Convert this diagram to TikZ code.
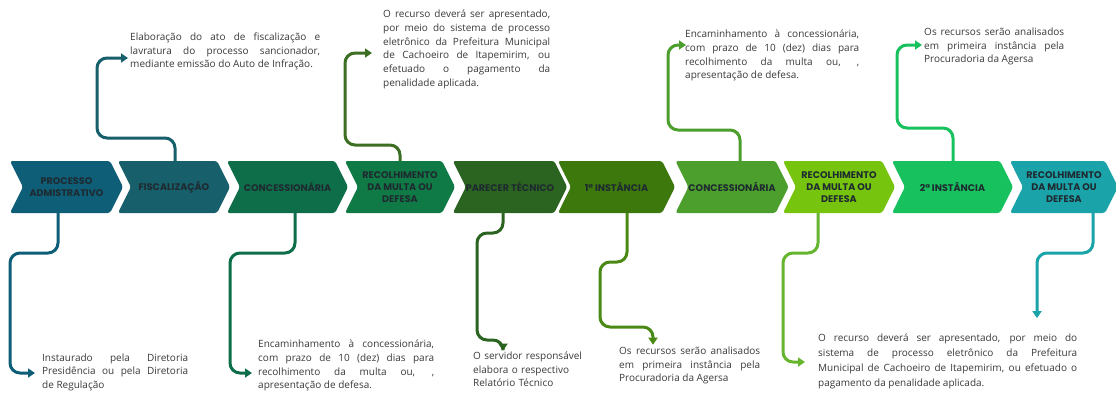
\documentclass[tikz,border=0pt]{standalone}
\usepackage{fontspec}
\setmainfont{Open Sans}
\newfontfamily\chevfont{Poppins}
\usetikzlibrary{shapes.symbols,arrows.meta,calc}
\definecolor{k1}{HTML}{0F5E78}
\definecolor{k2}{HTML}{165F6B}
\definecolor{k3}{HTML}{0E6E4A}
\definecolor{k4}{HTML}{0F7A45}
\definecolor{k5}{HTML}{2B6420}
\definecolor{k6}{HTML}{3D780D}
\definecolor{k7}{HTML}{4C9F2C}
\definecolor{k8}{HTML}{77C40E}
\definecolor{k9}{HTML}{17C25E}
\definecolor{k10}{HTML}{1AA3A9}
\definecolor{a4}{HTML}{3C6E23}
\definecolor{a6}{HTML}{4A8A14}
\definecolor{a8}{HTML}{66B52E}
\definecolor{chevtext}{HTML}{1E2A30}
\definecolor{bodytext}{HTML}{3A3A3A}
\hyphenpenalty=10000
\exhyphenpenalty=10000
\tikzset{
  chev/.style={shape=signal, signal from=west, signal to=east, signal pointer angle=127,
    minimum height=52pt, inner sep=0pt, fill=#1, rounded corners=2.5pt,
    font=\chevfont\fontsize{9.6}{11.8}\selectfont\bfseries, text=chevtext, align=center},
  conn/.style={line width=3pt, rounded corners=10pt, -{Triangle[length=7pt,width=9pt]}},
  body/.style={inner sep=0pt, anchor=base west, align=justify, text=bodytext,
    font=\fontsize{10}{13.7}\selectfont, text width=#1},
}
\begin{document}
\begin{tikzpicture}[x=1pt,y=-1pt]
\fill[white] (0,0) rectangle (1116,394);
\useasboundingbox (0,0) rectangle (1116,394);
% chevrons
\node[chev=k1, minimum width=113pt] (c1) at (66.5,187) {PROCESSO\\ADMISTRATIVO};
\node[chev=k2, minimum width=112pt] (c2) at (174,187) {FISCALIZAÇÃO};
\node[chev=k3, minimum width=121pt] (c3) at (287.5,187) {CONCESSIONÁRIA};
\node[chev=k4, minimum width=110pt] (c4) at (400,187) {RECOLHIMENTO\\DA MULTA OU\\DEFESA};
\node[chev=k5, minimum width=114pt] (c5) at (510,187) {PARECER TÉCNICO};
\node[chev=k6, minimum width=117pt] (c6) at (616.5,187) {1ª INSTÂNCIA};
\node[chev=k7, minimum width=110pt] (c7) at (732,187) {CONCESSIONÁRIA};
\node[chev=k8, minimum width=112pt] (c8) at (839,187) {RECOLHIMENTO\\DA MULTA OU\\DEFESA};
\node[chev=k9, minimum width=121pt] (c9) at (952.5,187) {2ª INSTÂNCIA};
\node[chev=k10, minimum width=108pt] (c10) at (1064,187) {RECOLHIMENTO\\DA MULTA OU\\DEFESA};
% top texts
\node[body=190pt] (t1) at (130,40.5) {Elaboração do ato de fiscalização e\linebreak lavratura do processo sancionador,\linebreak mediante emissão do Auto de Infração.};
\node[body=167pt] (t2) at (383,17.8) {O recurso deverá ser apresentado,\linebreak por meio do sistema de processo\linebreak eletrônico da Prefeitura Municipal\linebreak de Cachoeiro de Itapemirim, ou\linebreak efetuado o pagamento da\linebreak penalidade aplicada.};
\node[body=174pt] (t3) at (685,37.8) {Encaminhamento à concessionária,\linebreak com prazo de 10 (dez) dias para\linebreak recolhimento da multa ou, ,\linebreak apresentação de defesa.};
\node[body=140pt] (t4) at (924,35.5) {Os recursos serão analisados\linebreak em primeira instância pela\linebreak Procuradoria da Agersa};
% bottom texts
\node[body=146pt] (b1) at (42,361) {Instaurado pela Diretoria\linebreak Presidência ou pela Diretoria\linebreak de Regulação};
\node[body=176pt] (b2) at (258,347.8) {Encaminhamento à concessionária,\linebreak com prazo de 10 (dez) dias para\linebreak recolhimento da multa ou, ,\linebreak apresentação de defesa.};
\node[body=120pt, align=left] (b3) at (473,359.5) {O servidor responsável\\elabora o respectivo\\Relatório Técnico};
\node[body=141pt] (b4) at (619,354.5) {Os recursos serão analisados\linebreak em primeira instância pela\linebreak Procuradoria da Agersa};
\node[body=259pt, font=\fontsize{10}{15}\selectfont] (b5) at (818,341) {O recurso deverá ser apresentado, por meio do\linebreak sistema de processo eletrônico da Prefeitura\linebreak Municipal de Cachoeiro de Itapemirim, ou efetuado o\linebreak pagamento da penalidade aplicada.};
% connectors
\draw[conn, k1] ([xshift=-8.5pt]c1.south) |- (10,253) |- ($(b1.west |- 0,373)+(-7,0)$);
\draw[conn, k2] ([xshift=1pt]c2.north) |- (97,138) |- ($(t1.west |- 0,58)+(-2,0)$);
\draw[conn, k3] ([xshift=7.5pt]c3.south) |- (230,253) |- ($(b2.west |- 0,373)+(-6,0)$);
\draw[conn, a4] (c4.north) |- (345,145) |- ($(t2.west |- 0,53)+(-11,0)$);
\draw[conn, k5] ([xshift=-7pt]c5.south) |- (477,233) |- (503,340) -- ($(b3.north west)+(30,-1)$);
\draw[conn, a6] ([xshift=10.5pt]c6.south) |- (600,262) |- (653,327) -- ($(b4.north west)+(34,-2)$);
\draw[conn, k7] ([xshift=8pt]c7.north) |- (668,130) |- ($(t3.west |- 0,45)+(1,0)$);
\draw[conn, a8] ([xshift=-21pt]c8.south) |- (783,253) |- ($(b5.west |- 0,362)+(-13,0)$);
\draw[conn, k9] ([xshift=0.5pt]c9.north) |- (897,128) |- ($(t4.west |- 0,45)+(-2,0)$);
\draw[conn, k10] ([xshift=29pt]c10.south) |- (1037,253) -- ($(b5.north west)+(219,-15)$);
\end{tikzpicture}
\end{document}
